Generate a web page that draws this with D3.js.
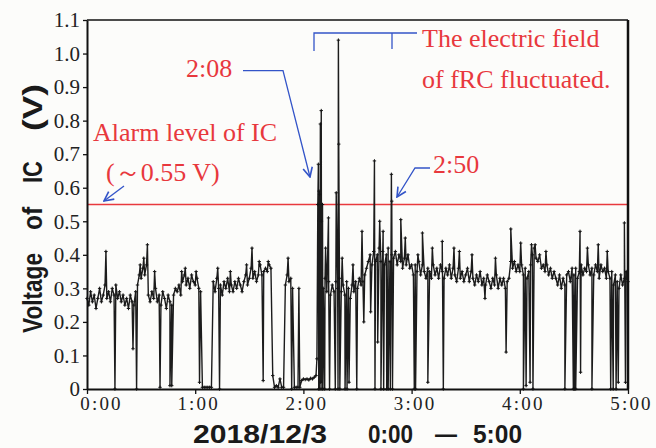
<!DOCTYPE html>
<html>
<head>
<meta charset="utf-8">
<script src="https://cdn.jsdelivr.net/npm/d3@7"></script>
<style>
  body { margin: 0; background: #fcfcfa; }
  text { white-space: pre; }
</style>
</head>
<body>
<svg id="chart" width="656" height="448"></svg>
<script>
// minute-by-minute level, one array per hour (0 = no signal)
var levelH0 = [
  0.27,0.25,0.29,0.26,0.28,0.24,0.27,0.30,0.26,0.28,
  0.31,0.27,0.29,0.26,0.30,0.28,0.31,0.27,0.29,0.26,
  0.28,0.25,0.27,0.24,0.28,0.26,0.25,0.29,0.31,0.34,
  0.33,0.36,0.34,0.37,0.28,0.26,0.29,0.27,0.30,0.26,
  0.28,0.25,0.29,0.27,0.24,0.28,0.26,0.25,0.28,0.30,
  0.29,0.31,0.28,0.32,0.34,0.31,0.33,0.30,0.34,0.32
];
var levelH1 = [
  0.31,0.33,0.30,0.29,
  0.005,0.005,0.005,0.005,0.005,0.005,
  0.32,0.29,0.33,0.30,0.31,0.28,0.32,0.30,0.33,0.29,
  0.31,0.29,0.32,0.30,0.33,0.31,0.29,0.32,0.34,0.31,
  0.33,0.36,0.33,0.35,0.32,0.34,0.37,0.34,0.35,0.36,
  0.35,0.37,0.36,
  0.04,0.005,0.01,0.005,0.03,0.005,0.005,
  0.31,0.34,0.32,0.33,0.30,
  0.005,0.005,0.005,0.005,
  0.025
];
var levelH2 = [
  0.03,0.028,0.03,0.027,0.032,0.03,0.035,0.04,
  0.55,0.58,0.50,
  0.30,0.33,0.29,0.32,0.28,0.31,0.29,0.32,0.30,
  0.33,0.29,0.31,0.28,0.32,0.30,0.27,0.31,0.29,0.32,
  0.30,0.33,0.31,0.32,0.34,0.36,
  0.38,0.40,0.37,0.41,0.38,0.40,0.42,0.38,0.41,0.37,0.40,0.42,0.38,0.40,
  0.39,0.41,0.37,0.40,0.38,0.36,0.39,0.37,0.40,0.36
];
var levelH3 = [
  0.37,0.34,0.37,0.35,0.38,0.34,0.37,0.35,0.33,0.36,
  0.35,0.33,0.37,0.34,0.36,0.33,0.37,0.35,0.33,0.36,
  0.34,0.37,0.33,0.36,0.34,0.32,0.36,0.33,0.35,0.32,
  0.34,0.36,0.32,0.35,0.33,0.31,0.34,0.32,0.35,0.31,
  0.33,0.31,0.34,0.32,0.30,0.33,0.31,0.34,0.30,0.33,
  0.31,0.33,0.30,0.32,0.33,0.38,0.36,0.38,0.35,0.37
];
var levelH4 = [
  0.35,0.37,0.34,0.36,0.33,0.35,0.37,0.40,0.42,0.39,
  0.38,0.40,0.36,0.37,0.35,0.37,0.34,0.36,0.33,0.35,
  0.33,0.31,0.34,0.30,0.33,0.31,0.34,0.35,0.32,0.36,
  0.34,0.36,0.33,0.35,0.37,0.34,0.36,0.35,0.37,0.34,
  0.36,0.34,0.37,0.35,0.33,0.37,0.35,0.36,0.33,0.35,
  0.33,0.35,0.31,0.34,0.32,0.30,0.34,0.31,0.33,0.35
];
var levelEnd = 0.32;

// 2:08 burst  [minute, volts]
var burst = [[127.5,0.09],[128.3,0.67],[128.5,0],[128.7,0.59],[129.2,0],[129.4,0.79],
  [129.6,0.02],[129.9,0.83],[130.3,0],[130.6,0.55],[130.8,0]];

// upward spikes
var peaks = [[10.5,0.41],[29.5,0.37],[31.5,0.39],[33.5,0.43],[37.5,0.35],[52.5,0.35],[54.5,0.36],[60.5,0.35],
  [72.5,0.36],[79.5,0.35],[88.5,0.37],[91.5,0.42],[95.5,0.38],[100.5,0.38],[111.5,0.39],[117.5,0.30],
  [132.3,0.42],[133.9,0.51],[138.2,0.585],[139.4,1.04],[139.6,0.73],[141.5,0.39],[147.5,0.37],[152.5,0.47],
  [159.4,0.68],[162.3,0.50],[164.2,0.47],[168.8,0.64],[169.0,0.56],[174,0.505],[176.5,0.45],
  [183.5,0.40],[186,0.465],[191.5,0.42],[197,0.44],[203.5,0.42],[206.5,0.41],[213.5,0.40],[226.5,0.39],[235,0.477],
  [240.5,0.435],[246.5,0.43],[248.5,0.43],[254.5,0.41],[273.4,0.47],[277.5,0.42],[283.5,0.43],[288.5,0.41],[298,0.495]];

// drop-outs
var dips = [[15.5,0],[25.5,0.12],[27.5,0],[40.5,0.005],[46,0.01],[47,0.01],[62.4,0.02],
  [73.5,0],[97.7,0.025],[113.5,0],
  [131.8,0],[134.5,0],[137.7,0],[139.2,0],[140.2,0],[143.1,0],[144.2,0],[145.3,0.02],[149.6,0],[153.5,0.2],
  [157.3,0.23],[159.7,0],[161.2,0.14],[163,0],[164.5,0],[166.2,0],[167,0],[168.2,0],[169.4,0],
  [181.5,0],[182.2,0],[189,0.02],[197.6,0],[220.7,0.27],[232.4,0.11],
  [242,0],[243.5,0.01],[245.7,0.02],[247.3,0],[265,0],[269.7,0],[270.3,0],[271,0],[273.7,0.05],[280,0],
  [290.4,0],[291.8,0],[293.4,0],[294.6,0.02],[298.6,0.02]];

var hourTicks = [0, 60, 120, 180, 240, 300];
var hourLabels = ['0:00', '1:00', '2:00', '3:00', '4:00', '5:00'];
var voltTicks = [0, 0.1, 0.2, 0.3, 0.4, 0.5, 0.6, 0.7, 0.8, 0.9, 1.0, 1.1];
var voltLabels = ['0', '0.1', '0.2', '0.3', '0.4', '0.5', '0.6', '0.7', '0.8', '0.9', '1.0', '1.1'];
var alarmLevel = 0.55;

var svg = d3.select('#chart');
var serif = '"Liberation Serif", "Times New Roman", serif';
var sans = '"Liberation Sans", Arial, sans-serif';
var red = '#e8383d', blue = '#3354c8';

var x = d3.scaleLinear().domain([0, 300]).range([87, 628]);
var y = d3.scaleLinear().domain([0, 1.1]).range([389, 20]);

// build the series
var pts = [];
[levelH0, levelH1, levelH2, levelH3, levelH4].forEach(function(arr, h) {
  arr.forEach(function(v, i) { pts.push([h * 60 + i, v]); });
});
pts.push([300, levelEnd]);
burst.concat(peaks, dips).forEach(function(p) { pts.push(p); });
pts.sort(function(a, b) { return a[0] - b[0]; });

// alarm line
svg.append('line')
  .attr('x1', x(0)).attr('x2', x(300))
  .attr('y1', y(alarmLevel)).attr('y2', y(alarmLevel))
  .attr('stroke', red).attr('stroke-width', 1.3);

// data
var line = d3.line().x(function(d) { return x(d[0]); }).y(function(d) { return y(d[1]); });
svg.append('path').datum(pts)
  .attr('d', line)
  .attr('fill', 'none').attr('stroke', '#1c1c1c').attr('stroke-width', 1.4)
  .attr('stroke-linejoin', 'round');

var marks = pts.map(function(d) {
  var px = x(d[0]), py = y(d[1]);
  return 'M' + (px - 1.7) + ',' + py + 'h3.4M' + px + ',' + (py - 1.7) + 'v3.4';
}).join('');
svg.append('path').attr('d', marks).attr('stroke', '#151515').attr('stroke-width', 1).attr('fill', 'none');

// axes
var yAxis = svg.append('g').attr('transform', 'translate(' + x(0) + ',0)')
  .call(d3.axisLeft(y).tickValues(voltTicks).tickFormat(function(d, i) { return voltLabels[i]; })
    .tickSize(4).tickSizeOuter(0).tickPadding(3));
yAxis.selectAll('text').attr('font-family', serif).attr('font-size', 21).attr('fill', '#222');

var xAxis = svg.append('g').attr('transform', 'translate(0,' + y(0) + ')')
  .call(d3.axisBottom(x).tickValues(hourTicks).tickFormat(function(d, i) { return hourLabels[i]; })
    .tickSize(5).tickSizeOuter(0).tickPadding(3));
xAxis.selectAll('text').attr('font-family', serif).attr('font-size', 19)
  .attr('letter-spacing', 2.2).attr('fill', '#222').attr('dy', '0.68em')
  .attr('dx', function(d, i) { return i === 0 ? 14 : 3; });
svg.selectAll('.domain').attr('stroke', '#111').attr('stroke-width', 2);
svg.selectAll('.tick line').attr('stroke', '#111').attr('stroke-width', 1.3);

// frame top / right
svg.append('line').attr('x1', x(0)).attr('x2', x(300)).attr('y1', y(1.1)).attr('y2', y(1.1))
  .attr('stroke', '#111').attr('stroke-width', 1.5);
svg.append('line').attr('x1', x(300)).attr('x2', x(300)).attr('y1', y(1.1)).attr('y2', y(0))
  .attr('stroke', '#111').attr('stroke-width', 2.5);

// axis titles
var yt = svg.append('g').attr('transform', 'translate(42,0) rotate(-90)')
  .attr('font-family', sans).attr('font-weight', 'bold').attr('font-size', 28).attr('fill', '#1a1a1a');
[['Voltage', 333, 80], ['of', 230, 23], ['IC', 183, 22], ['(V)', 131, 47]].forEach(function(w) {
  yt.append('text').attr('x', -w[1]).attr('y', 0).attr('textLength', w[2])
    .attr('lengthAdjust', 'spacingAndGlyphs').text(w[0]);
});

var xt = svg.append('g').attr('font-family', sans).attr('font-weight', 'bold')
  .attr('font-size', 25).attr('fill', '#1a1a1a');
[['2018/12/3', 193, 134], ['0:00', 368, 45], ['\u2014', 435, 22], ['5:00', 473, 49]].forEach(function(w) {
  xt.append('text').attr('x', w[1]).attr('y', 443).attr('textLength', w[2])
    .attr('lengthAdjust', 'spacingAndGlyphs').text(w[0]);
});

// annotations
svg.append('defs').append('marker')
  .attr('id', 'arrow').attr('viewBox', '0 0 10 10').attr('refX', 9).attr('refY', 5)
  .attr('markerWidth', 9).attr('markerHeight', 9).attr('orient', 'auto')
  .append('path').attr('d', 'M1,1 L9,5 L1,9').attr('fill', 'none')
  .attr('stroke', blue).attr('stroke-width', 1.4);

function poly(p, arrow) {
  var pth = svg.append('path').attr('d', d3.line()(p))
    .attr('fill', 'none').attr('stroke', blue).attr('stroke-width', 1.3);
  if (arrow) pth.attr('marker-end', 'url(#arrow)');
}
poly([[124, 186], [104, 201]], true);
poly([[243, 70.7], [283, 70.7], [310, 177]], true);
poly([[430, 168], [415, 168], [397, 197]], true);
poly([[314, 51], [314, 33], [417, 33]], false);
poly([[392, 33], [392, 49]], false);

var notes = [
  ['Alarm level of IC', 93, 141],
  ['(\uff5e0.55 V)', 106, 181],
  ['2:08', 186, 77],
  ['2:50', 433, 173],
  ['The electric field', 422, 47],
  ['of fRC fluctuated.', 422, 88]
];
svg.append('g').selectAll('text').data(notes).join('text')
  .attr('x', function(d) { return d[1]; }).attr('y', function(d) { return d[2]; })
  .attr('font-family', serif).attr('font-size', 26).attr('fill', red)
  .text(function(d) { return d[0]; });
</script>
</body>
</html>
